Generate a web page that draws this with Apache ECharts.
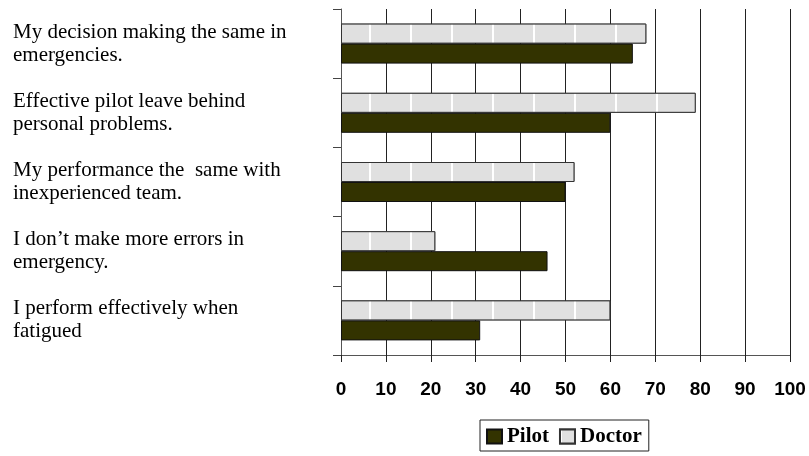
<!DOCTYPE html>
<html>
<head>
<meta charset="utf-8">
<script src="https://cdn.jsdelivr.net/npm/echarts@6/dist/echarts.min.js"></script>
<style>html,body{margin:0;padding:0;background:#fff;}#c{width:809px;height:456px;}</style>
</head>
<body>
<div id="c"></div>
<script>
var categories = [
  "My decision making the same in\nemergencies.",
  "Effective pilot leave behind\npersonal problems.",
  "My performance the  same with\ninexperienced team.",
  "I don\u2019t make more errors in\nemergency.",
  "I perform effectively when\nfatigued"
];
var pilotValues = [65, 60, 50, 46, 31];
var doctorValues = [68, 79, 52, 21, 60];
var xTicks = [0, 10, 20, 30, 40, 50, 60, 70, 80, 90, 100];

var chart = echarts.init(document.getElementById('c'), null, {renderer: 'canvas'});
chart.setOption({
  animation: false,
  backgroundColor: '#fff',
  grid: {left: 341, right: 19, top: 9, bottom: 101, containLabel: false},
  legend: {
    left: 480, top: 420,
    data: ['Pilot', 'Doctor'],
    itemWidth: 15, itemHeight: 14, itemGap: 10,
    padding: [6, 7, 4, 6],
    borderColor: '#222', borderWidth: 1,
    textStyle: {fontFamily: 'Liberation Serif', fontWeight: 'bold', fontSize: 21, color: '#000'},
    icon: 'rect'
  },
  xAxis: {
    type: 'value', min: 0, max: 100, interval: 10,
    axisLine: {show: true, lineStyle: {color: '#555', width: 1}},
    axisTick: {show: true, length: 7, lineStyle: {color: '#222'}},
    splitLine: {show: true, lineStyle: {color: '#222', width: 1}},
    axisLabel: {
      margin: 25, color: '#000', fontFamily: 'Liberation Sans', fontWeight: 'bold', fontSize: 19,
      formatter: function (v) { return xTicks.indexOf(v) >= 0 ? String(v) : ''; }
    }
  },
  yAxis: {
    type: 'category', data: categories, inverse: true,
    axisLine: {show: true, lineStyle: {color: '#555', width: 1}},
    axisTick: {show: true, length: 8, lineStyle: {color: '#444'}},
    axisLabel: {
      margin: 328, align: 'left', color: '#000', fontFamily: 'Liberation Serif', fontSize: 21, lineHeight: 23
    }
  },
  series: [
    {
      name: 'Doctor', type: 'bar', data: doctorValues,
      barWidth: 20, barGap: '0%',
      itemStyle: {
        color: '#e0e0e0', borderColor: '#333', borderWidth: 1,
        decal: {symbol: 'rect', symbolSize: 1, color: '#ffffff', backgroundColor: '#e0e0e0', dashArrayX: [2, 39], dashArrayY: [40, 0], rotation: 0}
      }
    },
    {
      name: 'Pilot', type: 'bar', data: pilotValues,
      barWidth: 20, barGap: '0%',
      itemStyle: {color: '#333300', borderColor: '#111', borderWidth: 1}
    }
  ]
});
</script>
</body>
</html>
